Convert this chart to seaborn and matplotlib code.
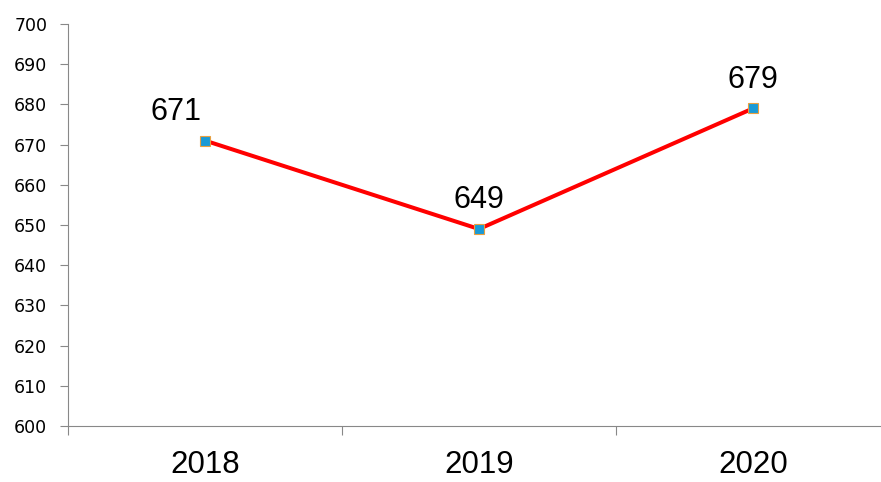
import numpy as np
import pandas as pd
import matplotlib
matplotlib.use("Agg")
import matplotlib.pyplot as plt
import seaborn as sns

years = ["2018", "2019", "2020"]
values = [671, 649, 679]
# horizontal nudge of each value label (points)
label_dx = [-21, 0, 0]

df = pd.DataFrame({"pos": np.arange(len(years)), "value": values})

sns.set_style("white")
plt.rcParams['font.family'] = ['Liberation Sans', 'DejaVu Sans']
plt.rcParams['text.color'] = 'black'
plt.rcParams['xtick.color'] = 'black'
plt.rcParams['ytick.color'] = 'black'

fig = plt.figure(figsize=(8.81, 4.82), dpi=100)
ax = fig.add_axes([68 / 881, 1 - 426 / 482, 822 / 881, 402 / 482])

sns.lineplot(data=df, x="pos", y="value", ax=ax, color="#ff0000", linewidth=2.9,
             marker="s", markersize=6.5, markerfacecolor="#1a9ad6",
             markeredgecolor="#e8a040", markeredgewidth=0.8, zorder=3)

# value labels above the markers
for i, v in enumerate(values):
    ax.annotate(str(v), (i, v), xytext=(label_dx[i], 15), textcoords="offset points",
                ha="center", va="baseline", fontsize=22)

ax.set_ylim(600, 700)
ax.set_yticks(np.arange(600, 701, 10))
for lab in ax.get_yticklabels():
    lab.set_family("DejaVu Sans")
    lab.set_fontsize(12.5)

ax.set_xlim(-0.5, len(years) - 0.5)
ax.set_xticks(np.arange(-0.5, len(years), 1.0))
ax.set_xticklabels([])
ax.set_xticks(np.arange(len(years)), minor=True)
ax.set_xticklabels(years, minor=True, fontsize=22.5)
ax.tick_params(axis="x", which="minor", bottom=False, length=0, pad=17)
ax.tick_params(axis="x", which="major", bottom=True, direction="out", length=6.5,
               color="#888888", width=0.8)
ax.tick_params(axis="y", left=True, direction="out", length=6, color="#888888",
               width=0.8, pad=9)
ax.set_xlabel("")
ax.set_ylabel("")

for s in ["top", "right"]:
    ax.spines[s].set_visible(False)
for s in ["left", "bottom"]:
    ax.spines[s].set_color("#888888")
    ax.spines[s].set_linewidth(0.8)

fig.savefig("out.png", dpi=100)
